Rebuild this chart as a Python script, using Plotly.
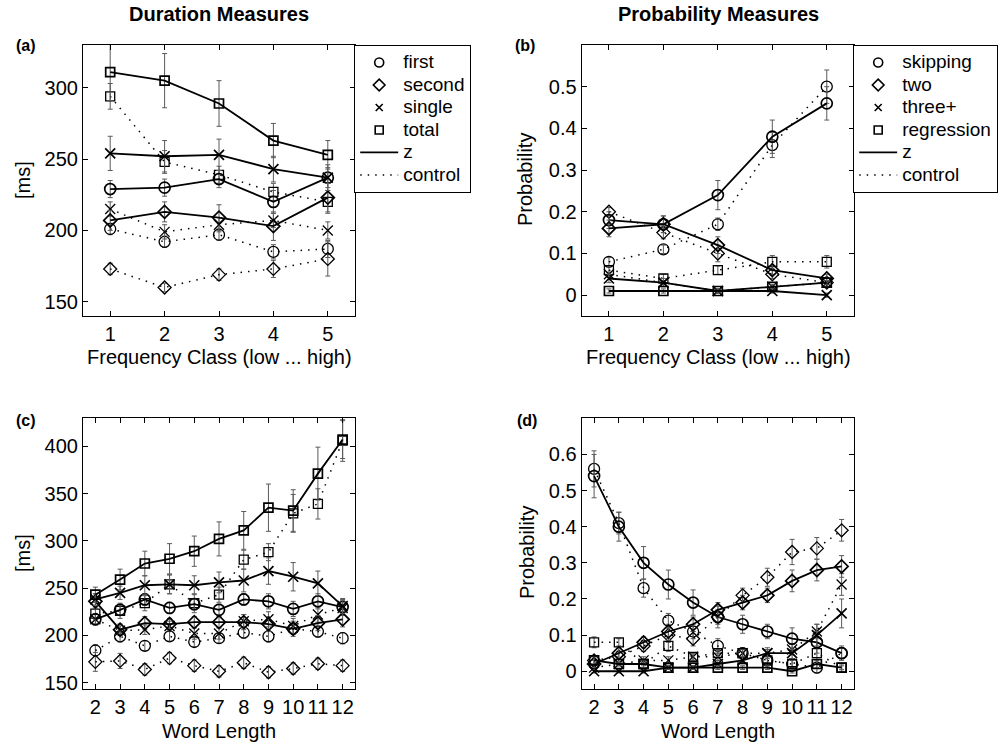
import plotly.graph_objects as go

# ---------------- data ----------------
freq = [1, 2, 3, 4, 5]
wordlen = [2, 3, 4, 5, 6, 7, 8, 9, 10, 11, 12]

yticks_a = [150, 200, 250, 300]
yticks_b = [0, 0.1, 0.2, 0.3, 0.4, 0.5]
yticks_c = [150, 200, 250, 300, 350, 400]
yticks_d = [0, 0.1, 0.2, 0.3, 0.4, 0.5, 0.6]

# (a) duration x frequency
a_first_z = [229, 230, 236, 220, 237]
a_second_z = [207, 213, 209, 203, 223]
a_single_z = [254, 252, 253, 243, 237]
a_total_z = [311, 305, 289, 263, 253]
a_first_c = [201, 192, 197, 185, 187]
a_second_c = [173, 160, 169, 173, 180]
a_single_c = [215, 199, 204, 207, 200]
a_total_c = [294, 248, 239, 227, 220]
a_first_z_err = [6, 6, 6, 8, 7]
a_second_z_err = [7, 7, 9, 10, 10]
a_single_z_err = [12, 11, 11, 9, 9]
a_total_z_err = [20, 19, 16, 12, 10]
a_first_c_err = [4, 4, 4, 5, 6]
a_second_c_err = [4, 3, 4, 6, 12]
a_single_c_err = [5, 5, 5, 5, 6]
a_total_c_err = [9, 8, 6, 6, 8]

# (b) probability x frequency
b_skip_z = [0.18, 0.17, 0.24, 0.38, 0.46]
b_two_z = [0.16, 0.17, 0.12, 0.06, 0.04]
b_three_z = [0.04, 0.03, 0.01, 0.01, 0.00]
b_reg_z = [0.01, 0.01, 0.01, 0.02, 0.03]
b_skip_c = [0.08, 0.11, 0.17, 0.36, 0.50]
b_two_c = [0.20, 0.15, 0.10, 0.05, 0.03]
b_three_c = [0.05, 0.03, 0.01, 0.02, 0.03]
b_reg_c = [0.06, 0.04, 0.06, 0.08, 0.08]
b_skip_z_err = [0.02, 0.02, 0.035, 0.04, 0.04]
b_two_z_err = [0.02, 0.02, 0.02, 0.01, 0.01]
b_three_z_err = [0.01, 0.01, 0.005, 0.005, 0.005]
b_reg_z_err = [0.005, 0.005, 0.005, 0.005, 0.005]
b_skip_c_err = [0.01, 0.01, 0.015, 0.03, 0.04]
b_two_c_err = [0.01, 0.015, 0.02, 0.01, 0.01]
b_three_c_err = [0.005, 0.005, 0.005, 0.005, 0.005]
b_reg_c_err = [0.01, 0.01, 0.01, 0.015, 0.015]

# (c) duration x word length
c_first_z = [217, 227, 238, 229, 233, 227, 238, 236, 228, 236, 230]
c_second_z = [236, 206, 213, 212, 214, 214, 214, 212, 207, 213, 217]
c_single_z = [238, 245, 253, 254, 253, 256, 258, 268, 262, 255, 231]
c_total_z = [243, 259, 276, 281, 289, 302, 311, 335, 332, 371, 407]
c_first_c = [184, 199, 189, 199, 193, 197, 203, 199, 207, 204, 197]
c_second_c = [172, 173, 164, 176, 168, 162, 171, 161, 165, 170, 168]
c_single_c = [217, 205, 206, 210, 202, 202, 215, 217, 210, 222, 229]
c_total_c = [223, 226, 234, 254, 234, 243, 280, 288, 329, 339, 406]
c_first_z_err = [6, 6, 6, 6, 6, 6, 6, 8, 8, 8, 8]
c_second_z_err = [8, 6, 7, 6, 6, 6, 8, 8, 8, 8, 8]
c_single_z_err = [6, 7, 10, 10, 10, 11, 12, 14, 15, 13, 8]
c_total_z_err = [8, 11, 13, 16, 16, 18, 20, 25, 22, 28, 20]
c_first_c_err = [6, 6, 5, 5, 5, 5, 6, 6, 6, 6, 6]
c_second_c_err = [10, 8, 6, 6, 6, 6, 6, 6, 6, 6, 6]
c_single_c_err = [5, 5, 5, 5, 6, 6, 7, 8, 8, 8, 8]
c_total_c_err = [6, 8, 8, 10, 10, 8, 10, 9, 20, 16, 22]

# (d) probability x word length
d_skip_z = [0.54, 0.40, 0.30, 0.24, 0.19, 0.15, 0.13, 0.11, 0.09, 0.08, 0.05]
d_two_z = [0.02, 0.05, 0.08, 0.11, 0.13, 0.17, 0.19, 0.21, 0.25, 0.28, 0.29]
d_three_z = [0.00, 0.00, 0.00, 0.01, 0.01, 0.02, 0.03, 0.05, 0.05, 0.10, 0.16]
d_reg_z = [0.03, 0.02, 0.02, 0.01, 0.01, 0.01, 0.01, 0.01, 0.00, 0.02, 0.01]
d_skip_c = [0.56, 0.41, 0.23, 0.14, 0.11, 0.07, 0.05, 0.03, 0.02, 0.01, 0.05]
d_two_c = [0.03, 0.04, 0.07, 0.10, 0.09, 0.15, 0.21, 0.26, 0.33, 0.34, 0.39]
d_three_c = [0.01, 0.02, 0.03, 0.03, 0.04, 0.04, 0.05, 0.05, 0.06, 0.11, 0.24]
d_reg_c = [0.08, 0.08, 0.02, 0.07, 0.04, 0.05, 0.05, 0.03, 0.02, 0.05, 0.01]
d_skip_z_err = [0.06, 0.04, 0.045, 0.04, 0.035, 0.03, 0.025, 0.02, 0.03, 0.03, 0.02]
d_two_z_err = [0.01, 0.015, 0.015, 0.02, 0.02, 0.02, 0.02, 0.02, 0.03, 0.03, 0.03]
d_three_z_err = [0.005, 0.005, 0.005, 0.005, 0.005, 0.01, 0.01, 0.015, 0.015, 0.03, 0.04]
d_reg_z_err = [0.01, 0.005, 0.005, 0.005, 0.005, 0.005, 0.005, 0.005, 0.005, 0.01, 0.005]
d_skip_c_err = [0.05, 0.03, 0.025, 0.02, 0.02, 0.02, 0.015, 0.015, 0.015, 0.015, 0.015]
d_two_c_err = [0.01, 0.015, 0.015, 0.02, 0.02, 0.02, 0.02, 0.025, 0.035, 0.03, 0.03]
d_three_c_err = [0.005, 0.005, 0.01, 0.01, 0.01, 0.01, 0.01, 0.01, 0.015, 0.02, 0.03]
d_reg_c_err = [0.015, 0.01, 0.01, 0.015, 0.01, 0.01, 0.01, 0.01, 0.01, 0.03, 0.01]

legend_a_names = ["first", "second", "single", "total"]
legend_b_names = ["skipping", "two", "three+", "regression"]

# ---------------- styling ----------------
W, H = 1006, 744
FONT = "Liberation Sans, Arial, Helvetica, sans-serif"
SYMS = ["circle-open", "diamond-open", "x-thin-open", "square-open"]
SIZES = [11, 10, 10, 9]
ERRC = "#5a5a5a"
DOTS = "1.5px,6px"

fig = go.Figure()


def add_series(x, y, err, k, dotted, xa, ya):
    if dotted:
        line = dict(color="black", width=1.5, dash=DOTS)
        mw = 1.3
    else:
        line = dict(color="black", width=1.8)
        mw = 1.7
    fig.add_trace(go.Scatter(
        x=x, y=y, mode="lines+markers", line=line,
        marker=dict(symbol=SYMS[k], size=SIZES[k], color="black",
                    line=dict(width=mw, color="black")),
        error_y=dict(type="data", array=err, color=ERRC, thickness=1, width=2.5),
        xaxis=xa, yaxis=ya, showlegend=False, hoverinfo="skip"))


panels = [
    ("x", "y", freq,
     [(a_first_c, a_first_c_err), (a_second_c, a_second_c_err), (a_single_c, a_single_c_err), (a_total_c, a_total_c_err)],
     [(a_first_z, a_first_z_err), (a_second_z, a_second_z_err), (a_single_z, a_single_z_err), (a_total_z, a_total_z_err)]),
    ("x2", "y2", freq,
     [(b_skip_c, b_skip_c_err), (b_two_c, b_two_c_err), (b_three_c, b_three_c_err), (b_reg_c, b_reg_c_err)],
     [(b_skip_z, b_skip_z_err), (b_two_z, b_two_z_err), (b_three_z, b_three_z_err), (b_reg_z, b_reg_z_err)]),
    ("x3", "y3", wordlen,
     [(c_first_c, c_first_c_err), (c_second_c, c_second_c_err), (c_single_c, c_single_c_err), (c_total_c, c_total_c_err)],
     [(c_first_z, c_first_z_err), (c_second_z, c_second_z_err), (c_single_z, c_single_z_err), (c_total_z, c_total_z_err)]),
    ("x4", "y4", wordlen,
     [(d_skip_c, d_skip_c_err), (d_two_c, d_two_c_err), (d_three_c, d_three_c_err), (d_reg_c, d_reg_c_err)],
     [(d_skip_z, d_skip_z_err), (d_two_z, d_two_z_err), (d_three_z, d_three_z_err), (d_reg_z, d_reg_z_err)]),
]

for xa, ya, xs, ctrl, zs in panels:
    for k, (yv, ev) in enumerate(ctrl):
        add_series(xs, yv, ev, k, True, xa, ya)
    for k, (yv, ev) in enumerate(zs):
        add_series(xs, yv, ev, k, False, xa, ya)


def leg_label(nm):
    return '<span style="font-size:19px">%s</span>' % nm


# legend-only entries
LEG_SIZES = [9, 9, 7, 8]
for legid, names, xa, ya in [("legend", legend_a_names, "x", "y"), ("legend2", legend_b_names, "x2", "y2")]:
    for k, nm in enumerate(names):
        fig.add_trace(go.Scatter(
            x=[None], y=[None], mode="markers", name=leg_label(nm),
            marker=dict(symbol=SYMS[k], size=LEG_SIZES[k], color="black", line=dict(width=1.6, color="black")),
            xaxis=xa, yaxis=ya, legend=legid, showlegend=True))
    fig.add_trace(go.Scatter(x=[None], y=[None], mode="lines", name=leg_label("z"),
                             line=dict(color="black", width=1.8), xaxis=xa, yaxis=ya,
                             legend=legid, showlegend=True))
    fig.add_trace(go.Scatter(x=[None], y=[None], mode="lines", name=leg_label("control"),
                             line=dict(color="black", width=1.5, dash=DOTS), xaxis=xa, yaxis=ya,
                             legend=legid, showlegend=True))

common = dict(showline=True, linecolor="black", linewidth=1.2, mirror="ticks", ticks="inside",
              ticklen=5, tickwidth=1, tickcolor="black", showgrid=False, zeroline=False,
              tickfont=dict(size=20, family=FONT, color="black"))

dom_x_left = [83 / W, 355 / W]
dom_x_right = [581.7 / W, 854 / W]
dom_y_top = [1 - 316 / H, 1 - 45 / H]
dom_y_bot = [1 - 689.3 / H, 1 - 418.3 / H]

leg_common = dict(xanchor="left", yanchor="top", bgcolor="white", bordercolor="black",
                  borderwidth=1.2, font=dict(size=15, family=FONT, color="black"),
                  itemwidth=38, tracegroupgap=0, entrywidthmode="pixels", entrywidth=128)

fig.update_layout(
    width=W, height=H,
    margin=dict(l=0, r=0, t=0, b=0, autoexpand=False),
    paper_bgcolor="white", plot_bgcolor="white",
    font=dict(family=FONT, size=20, color="black"),
    showlegend=True,
    legend=dict(x=354 / W, y=1 - 45 / H, **leg_common),
    legend2=dict(x=853 / W, y=1 - 45 / H, **leg_common),
    xaxis=dict(domain=dom_x_left, range=[0.5, 5.5], tickvals=freq, anchor="y", **common),
    yaxis=dict(domain=dom_y_top, range=[140, 330], tickvals=yticks_a, anchor="x", **common),
    xaxis2=dict(domain=dom_x_right, range=[0.5, 5.5], tickvals=freq, anchor="y2", **common),
    yaxis2=dict(domain=dom_y_top, range=[-0.05, 0.6], tickvals=yticks_b, anchor="x2", **common),
    xaxis3=dict(domain=dom_x_left, range=[1.5, 12.5], tickvals=wordlen, anchor="y3", **common),
    yaxis3=dict(domain=dom_y_bot, range=[143, 429.5], tickvals=yticks_c, anchor="x3", **common),
    xaxis4=dict(domain=dom_x_right, range=[1.5, 12.5], tickvals=wordlen, anchor="y4", **common),
    yaxis4=dict(domain=dom_y_bot, range=[-0.05, 0.7], tickvals=yticks_d, anchor="x4", **common),
)

ann = []
def add_text(txt, px, py, size=20, bold=False, angle=0):
    ann.append(dict(text=("<b>%s</b>" % txt) if bold else txt, x=px / W, y=1 - py / H,
                    xref="paper", yref="paper", showarrow=False, textangle=angle,
                    xanchor="center", yanchor="middle",
                    font=dict(size=size, family=FONT, color="black")))

add_text("Duration Measures", 219, 14, 20, True)
add_text("Probability Measures", 718, 14, 20, True)
add_text("(a)", 26, 46, 16, True)
add_text("(b)", 525, 46, 16, True)
add_text("(c)", 26, 420, 16, True)
add_text("(d)", 527, 420, 16, True)
add_text("Frequency Class (low ... high)", 219, 357)
add_text("Frequency Class (low ... high)", 718, 357)
add_text("Word Length", 219, 731)
add_text("Word Length", 718, 731)
add_text("[ms]", 23, 180, 20, False, -90)
add_text("[ms]", 23, 553, 20, False, -90)
add_text("Probability", 525, 180, 20, False, -90)
add_text("Probability", 527, 553, 20, False, -90)
fig.update_layout(annotations=ann)

fig.write_html("out.html")
